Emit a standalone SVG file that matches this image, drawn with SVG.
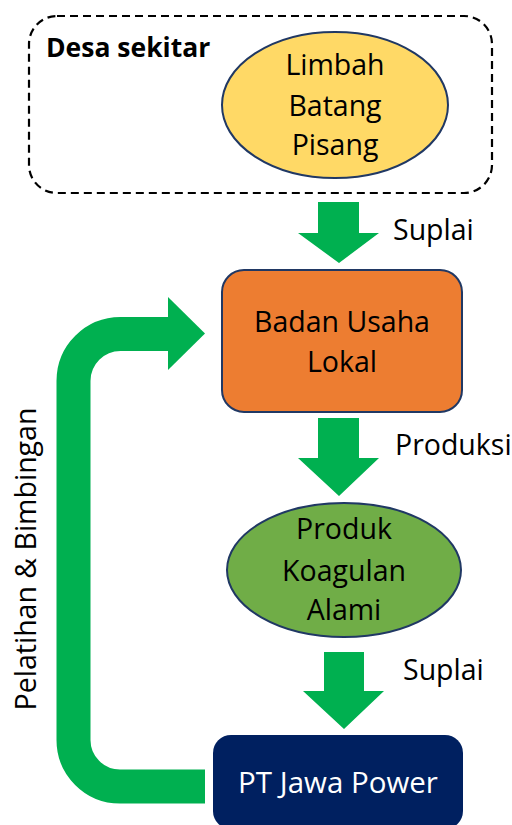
<svg xmlns="http://www.w3.org/2000/svg" width="512" height="825" viewBox="0 0 512 825">
<style>
text{font-family:"Open Sans","Liberation Sans",sans-serif;font-size:28.5px;fill:#000}
.c{text-anchor:middle}
.arrow{fill:#00B050}
.node{stroke:#203864;stroke-width:2}
</style>
<rect width="512" height="825" fill="#fff"/>
<g id="desa">
<rect x="29" y="16" width="463" height="177" rx="28" fill="none" stroke="#000" stroke-width="2.2" stroke-dasharray="8,5"/>
<text x="46" y="57" style="font-weight:bold;font-size:26.5px">Desa sekitar</text>
</g>
<g id="limbah">
<ellipse cx="335" cy="105" rx="113" ry="73" fill="#FFD966" class="node"/>
<text class="c" x="335" y="75">Limbah</text>
<text class="c" x="335" y="116">Batang</text>
<text class="c" x="335" y="155">Pisang</text>
</g>
<g id="badan">
<rect x="222" y="270" width="240" height="142" rx="22" fill="#ED7D31" class="node"/>
<text class="c" x="342" y="332">Badan Usaha</text>
<text class="c" x="342" y="372">Lokal</text>
</g>
<g id="produk">
<ellipse cx="344" cy="570" rx="117" ry="67" fill="#70AD47" class="node"/>
<text class="c" x="344" y="539">Produk</text>
<text class="c" x="344" y="581">Koagulan</text>
<text class="c" x="344" y="620">Alami</text>
</g>
<g id="ptjawa">
<rect x="213" y="735" width="250" height="94" rx="18" fill="#002060"/>
<text class="c" x="338" y="793" style="fill:#fff;font-size:29.5px">PT Jawa Power</text>
</g>
<g id="connectors">
<polygon class="arrow" points="318,202 359,202 359,233 379,233 339,263 298,233 318,233"/>
<text x="393" y="240">Suplai</text>
<polygon class="arrow" points="318,418 359,418 359,458 379,458 339,496 298,458 318,458"/>
<text x="395" y="455">Produksi</text>
<polygon class="arrow" points="324,652 364,652 364,691 384,691 344,729 303,691 324,691"/>
<text x="403" y="680">Suplai</text>
<path d="M205,786.5 H120 A46.5,46.5 0 0 1 73.5,740 V381 A47,47 0 0 1 120.5,334 H170" fill="none" stroke="#00B050" stroke-width="34"/>
<polygon class="arrow" points="168,297 205,333.5 168,370"/>
<text class="c" transform="translate(36,559) rotate(-90)">Pelatihan &amp; Bimbingan</text>
</g>
</svg>
